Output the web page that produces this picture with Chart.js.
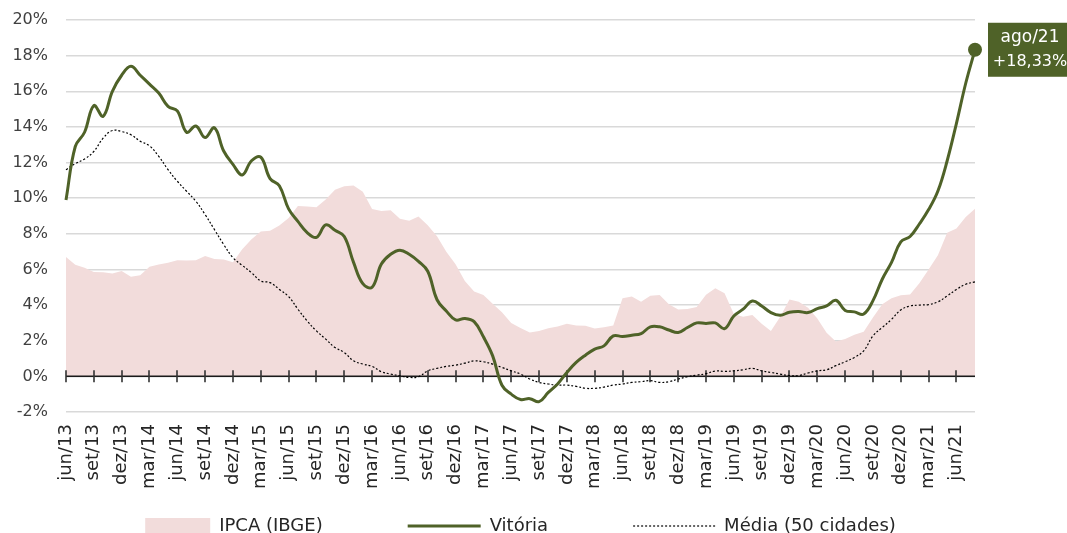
<!DOCTYPE html>
<html>
<head>
<meta charset="utf-8">
<script src="https://cdn.jsdelivr.net/npm/chart.js@4.4.1/dist/chart.umd.min.js"></script>
<style>
  html, body { margin: 0; padding: 0; background: #fff; overflow: hidden; }
  #wrap { position: relative; width: 1067px; height: 548px; }
</style>
</head>
<body>
<div id="wrap"><canvas id="myChart"></canvas></div>
<script>
// meses de jun/13 a ago/21
const categories = [
  'jun/13','jul/13','ago/13','set/13','out/13','nov/13','dez/13',
  'jan/14','fev/14','mar/14','abr/14','mai/14','jun/14','jul/14','ago/14','set/14','out/14','nov/14','dez/14',
  'jan/15','fev/15','mar/15','abr/15','mai/15','jun/15','jul/15','ago/15','set/15','out/15','nov/15','dez/15',
  'jan/16','fev/16','mar/16','abr/16','mai/16','jun/16','jul/16','ago/16','set/16','out/16','nov/16','dez/16',
  'jan/17','fev/17','mar/17','abr/17','mai/17','jun/17','jul/17','ago/17','set/17','out/17','nov/17','dez/17',
  'jan/18','fev/18','mar/18','abr/18','mai/18','jun/18','jul/18','ago/18','set/18','out/18','nov/18','dez/18',
  'jan/19','fev/19','mar/19','abr/19','mai/19','jun/19','jul/19','ago/19','set/19','out/19','nov/19','dez/19',
  'jan/20','fev/20','mar/20','abr/20','mai/20','jun/20','jul/20','ago/20','set/20','out/20','nov/20','dez/20',
  'jan/21','fev/21','mar/21','abr/21','mai/21','jun/21','jul/21','ago/21'
];

// IPCA acumulado 12 meses (%)
const ipca = [
  6.70, 6.27, 6.09, 5.86, 5.84, 5.77, 5.91,
  5.59, 5.68, 6.15, 6.28, 6.37, 6.52, 6.50, 6.51, 6.75, 6.59, 6.56, 6.41,
  7.14, 7.70, 8.13, 8.17, 8.47, 8.89, 9.56, 9.53, 9.49, 9.93, 10.48, 10.67,
  10.71, 10.36, 9.39, 9.28, 9.32, 8.84, 8.74, 8.97, 8.48, 7.87, 6.99, 6.29,
  5.35, 4.76, 4.57, 4.08, 3.60, 3.00, 2.71, 2.46, 2.54, 2.70, 2.80, 2.95,
  2.86, 2.84, 2.68, 2.76, 2.86, 4.39, 4.48, 4.19, 4.53, 4.56, 4.05, 3.75,
  3.78, 3.89, 4.58, 4.94, 4.66, 3.50, 3.35, 3.45, 2.95, 2.55, 3.35, 4.31,
  4.19, 3.85, 3.25, 2.45, 1.95, 2.10, 2.33, 2.50, 3.30, 4.05, 4.38, 4.55,
  4.60, 5.22, 6.00, 6.80, 8.06, 8.30, 8.95, 9.40
];

// Vitória (%)
const vitoria = [
  9.90, 12.90, 13.70, 15.20, 14.60, 16.00, 16.90,
  17.40, 16.90, 16.40, 15.90, 15.15, 14.90, 13.70, 14.05, 13.40, 13.95, 12.65, 11.90,
  11.30, 12.10, 12.30, 11.10, 10.70, 9.40, 8.70, 8.07, 7.80, 8.50, 8.20, 7.85,
  6.40, 5.20, 5.00, 6.30, 6.85, 7.08, 6.85, 6.45, 5.90, 4.30, 3.67, 3.17,
  3.25, 3.07, 2.22, 1.15, -0.50, -1.00, -1.30, -1.25, -1.42, -0.90, -0.43, 0.22,
  0.78, 1.19, 1.53, 1.71, 2.27, 2.24, 2.31, 2.40, 2.78, 2.78, 2.60, 2.46,
  2.74, 3.00, 2.97, 3.00, 2.68, 3.39, 3.77, 4.23, 3.95, 3.58, 3.43, 3.60,
  3.64, 3.58, 3.80, 3.95, 4.27, 3.70, 3.62, 3.50, 4.25, 5.45, 6.40, 7.55,
  7.85, 8.55, 9.36, 10.40, 12.10, 14.20, 16.45, 18.33
];

// Média (50 cidades) (%)
const media = [
  11.60, 11.94, 12.20, 12.62, 13.37, 13.80, 13.74,
  13.56, 13.20, 12.94, 12.35, 11.60, 10.95, 10.39, 9.83, 9.08, 8.24, 7.40, 6.66,
  6.23, 5.82, 5.35, 5.26, 4.88, 4.48, 3.77, 3.11, 2.55, 2.09, 1.62, 1.34,
  0.87, 0.69, 0.56, 0.26, 0.13, 0.03, -0.06, -0.02, 0.31, 0.45, 0.56, 0.63,
  0.74, 0.87, 0.82, 0.69, 0.50, 0.31, 0.13, -0.15, -0.34, -0.43, -0.49, -0.49,
  -0.56, -0.67, -0.67, -0.60, -0.49, -0.43, -0.34, -0.30, -0.24, -0.34, -0.30, -0.15,
  -0.02, 0.07, 0.15, 0.30, 0.28, 0.31, 0.37, 0.45, 0.31, 0.22, 0.13, 0.04,
  0.04, 0.19, 0.31, 0.37, 0.60, 0.82, 1.06, 1.43, 2.27, 2.74, 3.20, 3.73,
  3.95, 4.00, 4.03, 4.18, 4.51, 4.88, 5.17, 5.30
];

const seriesNames = ['IPCA (IBGE)', 'Vitória', 'Média (50 cidades)'];
const tickStep = 3;      // um rótulo a cada 3 meses
const yMin = -2, yMax = 20, yStep = 2;

const FONT = 'DejaVu Sans';
const VERDE = '#4f6228';
const ROSA = '#f2dcdb';

// linha do zero com marcas, desenhada logo após a área
const zeroAxis = {
  id: 'zeroAxis',
  afterDatasetDraw(chart, args) {
    if (args.index !== 0) return;
    const ctx = chart.ctx, x = chart.scales.x, y = chart.scales.y;
    const y0 = y.getPixelForValue(0);
    ctx.save();
    ctx.strokeStyle = '#1a1a1a';
    ctx.lineWidth = 1.5;
    ctx.beginPath();
    ctx.moveTo(chart.chartArea.left, y0);
    ctx.lineTo(chart.chartArea.right, y0);
    ctx.stroke();
    ctx.strokeStyle = '#333';
    ctx.lineWidth = 1.6;
    for (let i = 0; i < categories.length; i += tickStep) {
      const px = Math.round(x.getPixelForValue(i));
      ctx.beginPath();
      ctx.moveTo(px, y0 - 6);
      ctx.lineTo(px, y0 + 6);
      ctx.stroke();
    }
    ctx.restore();
  }
};

// caixa com o último valor de Vitória
const lastLabel = {
  id: 'lastLabel',
  afterDatasetsDraw(chart) {
    const ctx = chart.ctx;
    const meta = chart.getDatasetMeta(1);
    const last = meta.data.length - 1;
    const pt = meta.data[last];
    const bx = pt.x + 13, by = pt.y - 27;
    ctx.save();
    ctx.fillStyle = VERDE;
    ctx.fillRect(bx, by, 84, 54);
    ctx.fillStyle = '#fff';
    ctx.font = '17px "' + FONT + '"';
    ctx.textAlign = 'center';
    ctx.textBaseline = 'middle';
    ctx.fillText(categories[last], bx + 42, pt.y - 12);
    ctx.font = '16px "' + FONT + '"';
    ctx.fillText('+' + vitoria[last].toFixed(2).replace('.', ',') + '%', bx + 42, pt.y + 12);
    ctx.restore();
  }
};

// legenda inferior (símbolo + texto de cada série)
const bottomLegend = {
  id: 'bottomLegend',
  afterDraw(chart, args, opts) {
    const ctx = chart.ctx;
    const sets = chart.data.datasets;
    ctx.save();
    ctx.font = opts.size + 'px "' + FONT + '"';
    const widths = sets.map((ds, i) => opts.symbol[i] + opts.gap + ctx.measureText(ds.label).width);
    const total = widths.reduce((a, b) => a + b, 0) + opts.space * (sets.length - 1);
    let x = (chart.chartArea.left + chart.chartArea.right) / 2 - total / 2;
    const y = chart.scales.x.bottom - opts.fromBottom;
    sets.forEach((ds, i) => {
      const w = opts.symbol[i];
      if (ds.fill) {
        ctx.fillStyle = ds.backgroundColor;
        ctx.fillRect(x, y - 8, w, 16);
      } else {
        ctx.strokeStyle = ds.borderColor;
        ctx.lineWidth = ds.borderWidth;
        ctx.setLineDash(ds.borderDash || []);
        ctx.beginPath();
        ctx.moveTo(x, y);
        ctx.lineTo(x + w, y);
        ctx.stroke();
        ctx.setLineDash([]);
      }
      ctx.fillStyle = '#262626';
      ctx.textAlign = 'left';
      ctx.textBaseline = 'middle';
      ctx.fillText(ds.label, x + w + opts.gap, y);
      x += widths[i] + opts.space;
    });
    ctx.restore();
  }
};

const ctx = document.getElementById('myChart').getContext('2d');
const myChart = new Chart(ctx, {
  type: 'line',
  data: {
    labels: categories,
    datasets: [
      {
        label: seriesNames[0],
        data: ipca,
        backgroundColor: ROSA,
        borderColor: ROSA,
        borderWidth: 0,
        fill: 'origin',
        pointRadius: 0,
        tension: 0,
        order: 3
      },
      {
        label: seriesNames[1],
        data: vitoria,
        borderColor: VERDE,
        backgroundColor: VERDE,
        borderWidth: 3,
        fill: false,
        tension: 0.4,
        pointRadius: c => c.dataIndex === vitoria.length - 1 ? 7 : 0,
        pointBackgroundColor: VERDE,
        pointBorderWidth: 0,
        clip: false,
        order: 1
      },
      {
        label: seriesNames[2],
        data: media,
        borderColor: '#000',
        backgroundColor: '#000',
        borderWidth: 1.2,
        borderDash: [2, 2],
        fill: false,
        tension: 0.4,
        pointRadius: 0,
        clip: false,
        order: 2
      }
    ]
  },
  options: {
    responsive: true,
    maintainAspectRatio: false,
    devicePixelRatio: 1,
    animation: false,
    events: [],
    layout: { padding: { top: 20, left: 10, right: 92, bottom: 0 } },
    scales: {
      x: {
        grid: { display: false, drawTicks: false },
        border: { display: false },
        afterBuildTicks: axis => { axis.ticks = axis.ticks.filter((t, i) => i % tickStep === 0); },
        afterFit: scale => { scale.height = 136; },
        ticks: {
          autoSkip: false,
          minRotation: 90,
          maxRotation: 90,
          padding: 12,
          color: '#262626',
          font: { family: FONT, size: 18 },
          callback: function (v) { return this.getLabelForValue(v); }
        }
      },
      y: {
        min: yMin,
        max: yMax,
        afterFit: scale => {
          scale.width = 56;
          scale.paddingTop = 10;
          scale.paddingBottom = 10;
        },
        grid: { color: '#d9d9d9', lineWidth: 1.5, drawTicks: false },
        border: { display: false },
        ticks: {
          stepSize: yStep,
          padding: 18,
          color: '#404040',
          font: { family: FONT, size: 16 },
          callback: v => v + '%'
        }
      }
    },
    plugins: {
      tooltip: { enabled: false },
      legend: { display: false },
      bottomLegend: { size: 18, symbol: [65, 73, 82], gap: 9, space: 85, fromBottom: 22 }
    }
  },
  plugins: [zeroAxis, lastLabel, bottomLegend]
});
</script>
</body>
</html>
